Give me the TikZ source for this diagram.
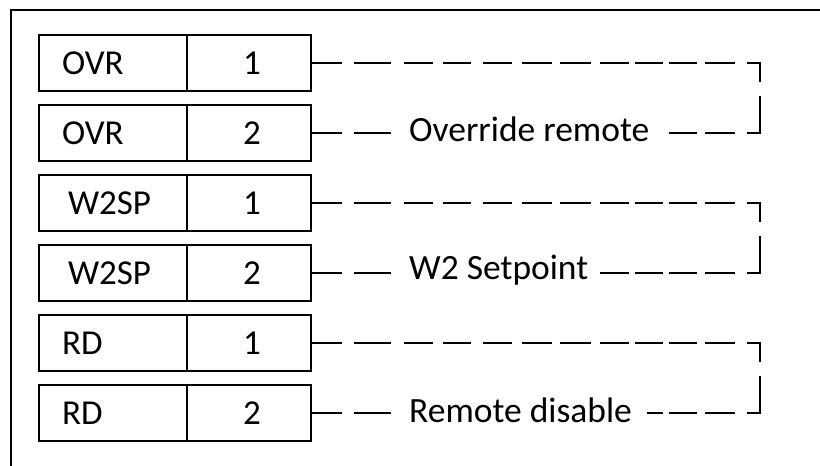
\documentclass[tikz,border=0pt]{standalone}
\usepackage{fontspec}
\setmainfont{Carlito}
\newcommand{\cellfont}{\fontsize{35}{40}\selectfont}
\newcommand{\lblfont}{\fontsize{35.5}{40}\selectfont}
\newcommand{\padtext}[2]{\kern17pt #1\kern#2\null}
\begin{document}
\begin{tikzpicture}[x=1pt,y=-1pt,
  frame/.style={line width=2pt, black},
  namecell/.style={draw, line width=1.8pt, minimum height=56pt, text width=102pt,
    inner xsep=23pt, inner ysep=0pt, align=left, font=\cellfont},
  numcell/.style={draw, line width=1.8pt, minimum width=124pt, minimum height=56pt,
    inner sep=0pt, font=\cellfont},
  wire/.style={line width=1.8pt, dash pattern={on 30pt off 12pt on 37pt off 13pt
    on 29pt off 10pt on 28pt off 12pt on 29pt off 10pt on 30pt off 8pt
    on 31pt off 9pt on 29pt off 6pt on 28pt off 6pt on 28pt off 8pt
    on 30pt off 12pt on 80pt off 10pt}},
  lbl/.style={fill=white, inner xsep=0pt, inner ysep=3pt, anchor=base west, font=\lblfont}]
\useasboundingbox (0,0) rectangle (820,466);
% outer frame (only top and left edges visible)
\coordinate (fr) at (822,9.7);
\coordinate (fc) at (11,9.7);
\coordinate (fb) at (11,468);
\draw[frame] (fr) -- (fc) -- (fb);
% rows
\node[namecell] (a1) at (113,63.3) {OVR};
\node[numcell]  (b1) at (249,63.3) {\hspace{6pt}1};
\node[namecell] (a2) at (113,133.3) {OVR};
\node[numcell]  (b2) at (249,133.3) {\hspace{6pt}2};
\node[namecell] (a3) at (113,203.3) {\hspace{6pt}W2SP};
\node[numcell]  (b3) at (249,203.3) {\hspace{6pt}1};
\node[namecell] (a4) at (113,273.3) {\hspace{6pt}W2SP};
\node[numcell]  (b4) at (249,273.3) {\hspace{6pt}2};
\node[namecell] (a5) at (113,343.3) {RD};
\node[numcell]  (b5) at (249,343.3) {\hspace{6pt}1};
\node[namecell] (a6) at (113,413.3) {RD};
\node[numcell]  (b6) at (249,413.3) {\hspace{6pt}2};
% bracket end points
\coordinate (t1) at (760,82);  \coordinate (u1) at (760,96);
\coordinate (t2) at (760,222); \coordinate (u2) at (760,236);
\coordinate (t3) at (760,362); \coordinate (u3) at (760,376);
% connectors
\draw[wire] (b1.east) -| (t1);
\draw[wire] (b2.east) -| (u1);
\draw[wire] (b3.east) -| (t2);
\draw[wire] (b4.east) -| (u2);
\draw[wire] (b5.east) -| (t3);
\draw[wire] (b6.east) -| (u3);
% labels
\node[lbl] (l1) at (392,141.7) {\padtext{Override remote}{14pt}};
\node[lbl] (l2) at (392,279.8) {\padtext{W2 Setpoint}{7.5pt}};
\node[lbl] (l3) at (392,422.7) {\padtext{Remote disable}{15pt}};
\end{tikzpicture}
\end{document}
